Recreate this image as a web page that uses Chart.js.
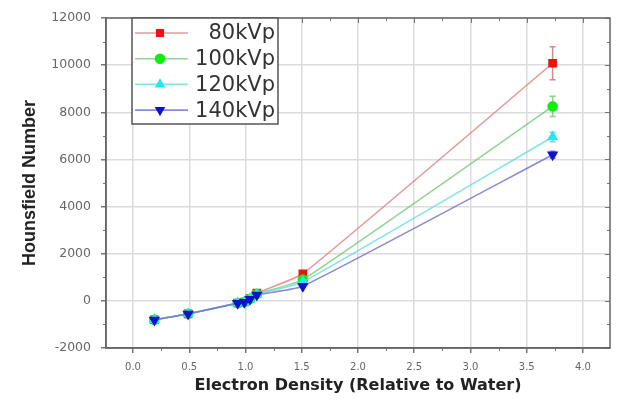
<!DOCTYPE html>
<html><head><meta charset="utf-8">
<script src="https://cdn.jsdelivr.net/npm/chart.js@4/dist/chart.umd.min.js"></script>
<style>html,body{margin:0;padding:0;background:#fff}#wrap{width:618px;height:407px}</style>
</head><body><div id="wrap"><canvas id="c" width="618" height="407"></canvas></div>
<script>
const electronDensity = [0.19, 0.49, 0.93, 0.99, 1.04, 1.10, 1.51, 3.73];
const hu80 = [-800, -550, -90, -50, 100, 330, 1150, 10080];
const hu100 = [-800, -550, -90, -50, 90, 290, 900, 8250];
const hu120 = [-800, -550, -95, -55, 80, 270, 800, 6950];
const hu140 = [-810, -555, -100, -60, 70, 250, 620, 6200];
const err80 = [20, 20, 20, 20, 20, 30, 60, 700];
const err100 = [20, 20, 20, 20, 20, 30, 50, 430];
const err120 = [20, 20, 20, 20, 20, 20, 40, 200];
const err140 = [20, 20, 20, 20, 20, 20, 40, 150];
const seriesLabels = ['80kVp', '100kVp', '120kVp', '140kVp'];
const xTicks = [0.0, 0.5, 1.0, 1.5, 2.0, 2.5, 3.0, 3.5, 4.0];
const yTicks = [-2000, 0, 2000, 4000, 6000, 8000, 10000, 12000];

function pts(ys){ return electronDensity.map((x,i)=>({x:x,y:ys[i]})); }

const styles = [
  {line:'rgba(220,120,120,0.75)', pt:'#ee1111', shape:'rect', rot:0, r:5, err:'rgba(200,110,110,0.8)'},
  {line:'rgba(110,200,110,0.75)', pt:'#11ee11', shape:'circle', rot:0, r:4.5, err:'rgba(100,200,100,0.8)'},
  {line:'rgba(100,220,230,0.8)', pt:'#22e8f0', shape:'triangle', rot:0, r:5, err:'rgba(90,210,220,0.8)'},
  {line:'rgba(110,110,200,0.8)', pt:'#1111cc', shape:'triangle', rot:180, r:5, err:'rgba(90,90,200,0.8)'}
];
const allY = [hu80, hu100, hu120, hu140];
const allErr = [err80, err100, err120, err140];

const datasets = allY.map((ys,k)=>({
  label: seriesLabels[k],
  data: pts(ys),
  errors: allErr[k],
  order: 3-k,
  borderColor: styles[k].line,
  backgroundColor: styles[k].pt,
  pointBackgroundColor: styles[k].pt,
  pointBorderColor: styles[k].pt,
  pointStyle: styles[k].shape,
  pointRotation: styles[k].rot,
  pointRadius: styles[k].r,
  borderWidth: 1.6,
  tension: 0.15,
  errColor: styles[k].err
}));

const errorBars = {
  id:'errorBars',
  beforeDatasetsDraw(chart){
    const ctx = chart.ctx, xs = chart.scales.x, ys = chart.scales.y;
    chart.data.datasets.forEach(ds=>{
      ctx.save();
      ctx.strokeStyle = ds.errColor; ctx.lineWidth = 1.5;
      ds.data.forEach((p,i)=>{
        const e = ds.errors[i];
        const px = xs.getPixelForValue(p.x);
        const y1 = ys.getPixelForValue(p.y + e), y2 = ys.getPixelForValue(p.y - e);
        if (Math.abs(y2-y1) < 6) return;
        ctx.beginPath();
        ctx.moveTo(px,y1); ctx.lineTo(px,y2);
        ctx.moveTo(px-3,y1); ctx.lineTo(px+3,y1);
        ctx.moveTo(px-3,y2); ctx.lineTo(px+3,y2);
        ctx.stroke();
      });
      ctx.restore();
    });
  }
};

const frameAndLegend = {
  id:'frameAndLegend',
  afterDraw(chart){
    const ctx = chart.ctx, a = chart.chartArea;
    const xs = chart.scales.x, ys = chart.scales.y;
    ctx.save();
    ctx.strokeStyle = '#777'; ctx.lineWidth = 1;
    for (let i=0;i<xTicks.length-1;i++){
      const v = (xTicks[i]+xTicks[i+1])/2;
      const px = Math.round(xs.getPixelForValue(v))+0.5;
      ctx.beginPath(); ctx.moveTo(px,a.bottom); ctx.lineTo(px,a.bottom+3);
      ctx.moveTo(px,a.top); ctx.lineTo(px,a.top+3); ctx.stroke();
    }
    for (let i=0;i<yTicks.length-1;i++){
      const v = (yTicks[i]+yTicks[i+1])/2;
      const py = Math.round(ys.getPixelForValue(v))+0.5;
      ctx.beginPath(); ctx.moveTo(a.left-3,py); ctx.lineTo(a.left,py);
      ctx.moveTo(a.right,py); ctx.lineTo(a.right-3,py); ctx.stroke();
    }
    xTicks.forEach(v=>{
      const px = Math.round(xs.getPixelForValue(v))+0.5;
      ctx.beginPath(); ctx.moveTo(px,a.top); ctx.lineTo(px,a.top+5); ctx.stroke();
    });
    yTicks.forEach(v=>{
      const py = Math.round(ys.getPixelForValue(v))+0.5;
      ctx.beginPath(); ctx.moveTo(a.right,py); ctx.lineTo(a.right-5,py); ctx.stroke();
    });
    ctx.strokeStyle = '#666'; ctx.lineWidth = 1.5;
    ctx.strokeRect(a.left, a.top, a.right-a.left, a.bottom-a.top);
    // legend
    const lx = 132, ly = 18, lw = 146, lh = 106;
    ctx.fillStyle = '#fff';
    ctx.fillRect(lx,ly,lw,lh);
    ctx.strokeStyle = '#555'; ctx.lineWidth = 1.5;
    ctx.strokeRect(lx,ly,lw,lh);
    chart.data.datasets.forEach((ds,k)=>{
      const cy = 33 + k*25.7;
      ctx.strokeStyle = ds.borderColor; ctx.lineWidth = 1.6;
      ctx.beginPath(); ctx.moveTo(lx+3,cy); ctx.lineTo(lx+56,cy); ctx.stroke();
      ctx.fillStyle = ds.pointBackgroundColor;
      ctx.strokeStyle = ds.pointBorderColor;
      Chart.helpers.drawPoint(ctx, {pointStyle: ds.pointStyle, radius: 4.5, rotation: ds.pointRotation, borderWidth:1}, lx+28, cy);
      ctx.fillStyle = '#333';
      ctx.font = '21px "DejaVu Sans"';
      ctx.textAlign = 'right'; ctx.textBaseline = 'middle';
      ctx.fillText(ds.label, lx+lw-3, cy+1);
    });
    ctx.restore();
  }
};

new Chart(document.getElementById('c'), {
  type:'line',
  data:{datasets},
  plugins:[errorBars, frameAndLegend],
  options:{
    responsive:false, animation:false, devicePixelRatio:1,
    layout:{padding:{left:0,right:8,top:18,bottom:0}},
    plugins:{legend:{display:false}, tooltip:{enabled:false}},
    scales:{
      x:{type:'linear', min:-0.24, max:4.24,
        afterBuildTicks(s){ s.ticks = xTicks.map(v=>({value:v})); },
        afterFit(s){ s.height = 59; },
        border:{display:true,color:'#666',width:1.5},
        grid:{color:'#dcdcdc', lineWidth:1.5, tickLength:5, tickColor:'#777'},
        ticks:{color:'#666', font:{family:'DejaVu Sans', size:10}, padding:8, maxRotation:0,
          callback:v=>v.toFixed(1)},
        title:{display:true, text:'Electron Density (Relative to Water)', color:'#222',
          font:{family:'DejaVu Sans', weight:'bold', size:16}, padding:{top:0,bottom:12}}
      },
      y:{type:'linear', min:-2000, max:12000,
        afterBuildTicks(s){ s.ticks = yTicks.map(v=>({value:v})); },
        afterFit(s){ s.width = 106; },
        border:{display:true,color:'#666',width:1.5},
        grid:{color:'#dcdcdc', lineWidth:1.5, tickLength:5, tickColor:'#777'},
        ticks:{color:'#666', font:{family:'DejaVu Sans', size:12.5}, padding:10, callback:v=>String(v)},
        title:{display:true, text:'Hounsfield Number', color:'#222',
          font:{family:'Liberation Sans', weight:'bold', size:18}, padding:{top:19,bottom:0}}
      }
    }
  }
});
</script></body></html>
